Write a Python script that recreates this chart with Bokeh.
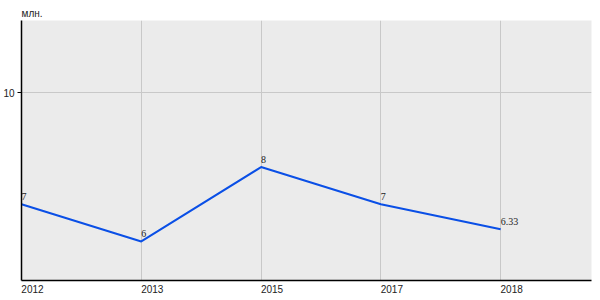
from bokeh.plotting import figure
from bokeh.models import Range1d, FixedTicker, ColumnDataSource, LabelSet, LinearAxis
from bokeh.embed import file_html
from bokeh.resources import INLINE

years = ["2012", "2013", "2015", "2017", "2018"]
values = [7, 6, 8, 7, 6.33]
value_labels = ["7", "6", "8", "7", "6.33"]
y_ticks = [10]
unit = "млн."

idx = list(range(len(years)))
y0, y1 = 4.95, 11.94
x_end = 571 / 120
shift = 11 / 120  # half label width, so the year labels start at their grid line
src = ColumnDataSource(dict(x=idx, y=values, t=value_labels))

FONT = "Liberation Sans"

p = figure(width=600, height=300, output_backend="svg", toolbar_location=None,
           x_range=Range1d(0, x_end), y_range=Range1d(y0, y1),
           x_axis_location=None,
           min_border_left=20, min_border_right=9, min_border_top=20, min_border_bottom=20,
           background_fill_color="#ebebeb", border_fill_color="white")
p.outline_line_color = None
p.extra_x_ranges = {"lab": Range1d(-shift, x_end - shift)}

p.title.text = unit
p.title.text_font = FONT
p.title.text_font_size = "10px"
p.title.text_font_style = "normal"
p.title.text_color = "#222222"
p.title.offset = 0
p.title.standoff = 3

p.line("x", "y", source=src, line_color="#0a4fe6", line_width=2)
p.add_layout(LabelSet(x="x", y="y", text="t", source=src, text_font=FONT, text_font_size="10px",
                      text_color="#222222", text_align="left", text_baseline="bottom",
                      y_offset=4, x_offset=0))

xa = LinearAxis(x_range_name="lab", ticker=FixedTicker(ticks=idx),
                major_label_overrides={i: y for i, y in zip(idx, years)},
                major_tick_out=0, major_tick_in=0, minor_tick_line_color=None,
                axis_line_color="black", axis_line_width=1.5, major_label_standoff=4,
                major_label_text_font=FONT, major_label_text_font_size="10px",
                major_label_text_color="#222222")
p.add_layout(xa, "below")

p.yaxis.ticker = FixedTicker(ticks=y_ticks)
p.yaxis.major_tick_out = 4
p.yaxis.major_tick_in = 0
p.yaxis.minor_tick_line_color = None
p.yaxis.axis_line_color = "black"
p.yaxis.axis_line_width = 1.5
p.yaxis.major_label_standoff = 3
p.yaxis.major_label_text_font = FONT
p.yaxis.major_label_text_font_size = "10px"
p.yaxis.major_label_text_color = "#222222"

p.xgrid.ticker = FixedTicker(ticks=idx)
p.ygrid.ticker = FixedTicker(ticks=y_ticks)
for g in (p.xgrid, p.ygrid):
    g.grid_line_color = "#c8c8c8"
    g.grid_line_width = 1

open("out.html", "w").write(file_html(p, INLINE))
